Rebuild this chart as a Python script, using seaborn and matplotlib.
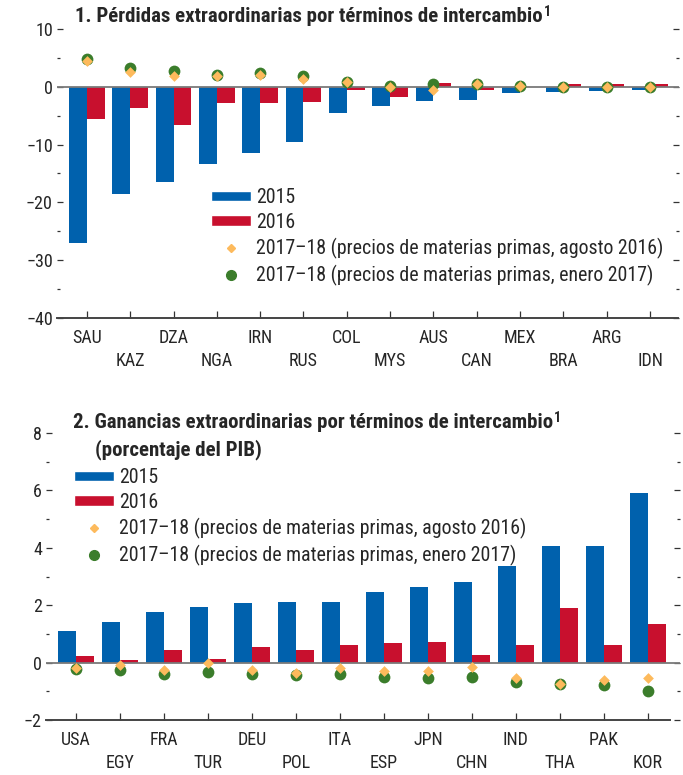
import numpy as np
import pandas as pd
import matplotlib
matplotlib.use("Agg")
import matplotlib.pyplot as plt
import matplotlib.font_manager as fm
from matplotlib.patches import Patch
from matplotlib.lines import Line2D
from matplotlib.ticker import MultipleLocator
import seaborn as sns

# Panel 1: terms-of-trade windfall losses
countries_loss = ["SAU", "KAZ", "DZA", "NGA", "IRN", "RUS", "COL", "MYS", "AUS", "CAN", "MEX", "BRA", "ARG", "IDN"]
loss_2015 = [-27.1, -18.6, -16.5, -13.4, -11.5, -9.6, -4.6, -3.4, -2.5, -2.3, -1.1, -0.9, -0.75, -0.6]
loss_2016 = [-5.6, -3.7, -6.6, -2.8, -2.8, -2.7, -0.5, -1.8, 0.6, -0.5, -0.1, 0.4, 0.4, 0.4]
loss_aug16 = [4.4, 2.6, 1.8, 1.8, 2.1, 1.4, 0.9, 0.0, -0.5, 0.4, 0.1, -0.05, 0.0, -0.1]
loss_jan17 = [4.8, 3.3, 2.7, 2.1, 2.35, 1.8, 0.8, 0.1, 0.4, 0.5, 0.1, 0.0, 0.05, -0.1]

# Panel 2: terms-of-trade windfall gains
countries_gain = ["USA", "EGY", "FRA", "TUR", "DEU", "POL", "ITA", "ESP", "JPN", "CHN", "IND", "THA", "PAK", "KOR"]
gain_2015 = [1.1, 1.4, 1.78, 1.92, 2.06, 2.1, 2.12, 2.47, 2.64, 2.8, 3.36, 4.05, 4.08, 5.92]
gain_2016 = [0.23, 0.09, 0.43, 0.13, 0.53, 0.43, 0.63, 0.67, 0.71, 0.26, 0.6, 1.9, 0.6, 1.36]
gain_aug16 = [-0.2, -0.08, -0.25, 0.0, -0.27, -0.35, -0.18, -0.3, -0.3, -0.15, -0.52, -0.74, -0.6, -0.55]
gain_jan17 = [-0.23, -0.27, -0.38, -0.33, -0.4, -0.43, -0.38, -0.5, -0.55, -0.49, -0.68, -0.75, -0.78, -1.0]

years = ["2015", "2016"]
legend_labels = ["2015", "2016",
                 "2017\u201318 (precios de materias primas, agosto 2016)",
                 "2017\u201318 (precios de materias primas, enero 2017)"]
titles = ["1. P\u00e9rdidas extraordinarias por t\u00e9rminos de intercambio",
          "2. Ganancias extraordinarias por t\u00e9rminos de intercambio"]
subtitle = "(porcentaje del PIB)"

BLUE = "#0061AD"
RED = "#C8102E"
ORANGE = "#FDBA5C"
GREEN = "#3B7D2B"

sns.set_style("ticks")
installed = {f.name for f in fm.fontManager.ttflist}
family = "DejaVu Sans"
for cand in ["Liberation Sans Narrow", "Roboto Condensed", "Open Sans Condensed", "Liberation Sans"]:
    if cand in installed:
        family = cand
        break
plt.rcParams["font.family"] = [family, "DejaVu Sans"]
FS_TICK = 13
FS_LEG = 14.3
FS_TITLE = 15

W, H = 683, 775
fig = plt.figure(figsize=(W / 100, H / 100), dpi=100)


def px_axes(left, right, top, bottom):
    return fig.add_axes([left / W, 1 - bottom / H, (right - left) / W, (bottom - top) / H])


def draw_panel(ax, countries, v15, v16, aug, jan, ylim, major, minor, xlim, spine_end):
    df = pd.DataFrame({
        "country": countries * 2,
        "year": [years[0]] * len(countries) + [years[1]] * len(countries),
        "value": list(v15) + list(v16),
    })
    sns.barplot(data=df, x="country", y="value", hue="year", palette=[BLUE, RED],
                width=0.82, gap=0, saturation=1, errorbar=None, legend=False,
                linewidth=0, ax=ax)
    ax.axhline(0, color="#7a7a7a", lw=1.3, zorder=2)
    pos = np.arange(len(countries))
    sns.scatterplot(x=pos, y=jan, marker="o", s=72, color=GREEN, linewidth=0, ax=ax, zorder=4)
    sns.scatterplot(x=pos, y=aug, marker="D", s=30, color=ORANGE, linewidth=0, ax=ax, zorder=5)

    ax.set_xlim(*xlim)
    ax.set_ylim(*ylim)
    ax.set_xlabel("")
    ax.set_ylabel("")
    ax.set_xticks(pos)
    ax.set_xticklabels([c if i % 2 == 0 else "\n" + c for i, c in enumerate(countries)],
                       fontsize=FS_TICK, linespacing=1.36)
    ax.yaxis.set_major_locator(MultipleLocator(major))
    ax.yaxis.set_minor_locator(MultipleLocator(minor))
    ax.tick_params(axis="x", direction="in", length=5, width=0.9, color="#333333", pad=8)
    ax.tick_params(axis="y", which="major", direction="in", length=4.5, width=0.9,
                   color="#333333", labelsize=FS_TICK, pad=3, left=True, right=True)
    ax.tick_params(axis="y", which="minor", direction="in", length=2.5, width=0.9,
                   color="#333333", left=True, right=True)
    for s in ["left", "right", "top"]:
        ax.spines[s].set_visible(False)
    ax.spines["bottom"].set_color("#444444")
    ax.spines["bottom"].set_linewidth(1.4)
    ax.spines["bottom"].set_bounds(xlim[0], spine_end)


def panel_legend(ax, x, y):
    handles = [Patch(facecolor=BLUE), Patch(facecolor=RED),
               Line2D([], [], marker="D", color=ORANGE, ls="none", ms=4.2),
               Line2D([], [], marker="o", color=GREEN, ls="none", ms=7)]
    ax.legend(handles, legend_labels, loc="upper left", bbox_to_anchor=(x / W, 1 - y / H),
              bbox_transform=fig.transFigure, frameon=False, fontsize=FS_LEG,
              handlelength=2.0, handleheight=0.46, handletextpad=0.28,
              labelspacing=0.3, borderpad=0, borderaxespad=0)


def title_with_note(x, y, text):
    t = fig.text(x / W, 1 - y / H, text, fontsize=FS_TITLE, fontweight="bold",
                 va="center", ha="left")
    fig.canvas.draw()
    bb = t.get_window_extent()
    fig.text((bb.x1 + 1) / W, 1 - (y - 5) / H, "1", fontsize=10, fontweight="bold",
             va="center", ha="left")


ax1 = px_axes(57, 679, 29, 318)
draw_panel(ax1, countries_loss, loss_2015, loss_2016, loss_aug16, loss_jan17,
           (-40, 10), 10, 5, (-0.69, 13.67), 13.65)
panel_legend(ax1, 211, 188)

ax2 = px_axes(46, 680, 433, 720)
draw_panel(ax2, countries_gain, gain_2015, gain_2016, gain_aug16, gain_jan17,
           (-2, 8), 2, 1, (-0.68, 13.73), 13.5)
panel_legend(ax2, 74, 468)

title_with_note(75, 17, titles[0])
title_with_note(73, 423, titles[1])
fig.text(95 / W, 1 - 450 / H, subtitle, fontsize=FS_TITLE, fontweight="bold",
         va="center", ha="left")

fig.savefig("out.png", dpi=100)
